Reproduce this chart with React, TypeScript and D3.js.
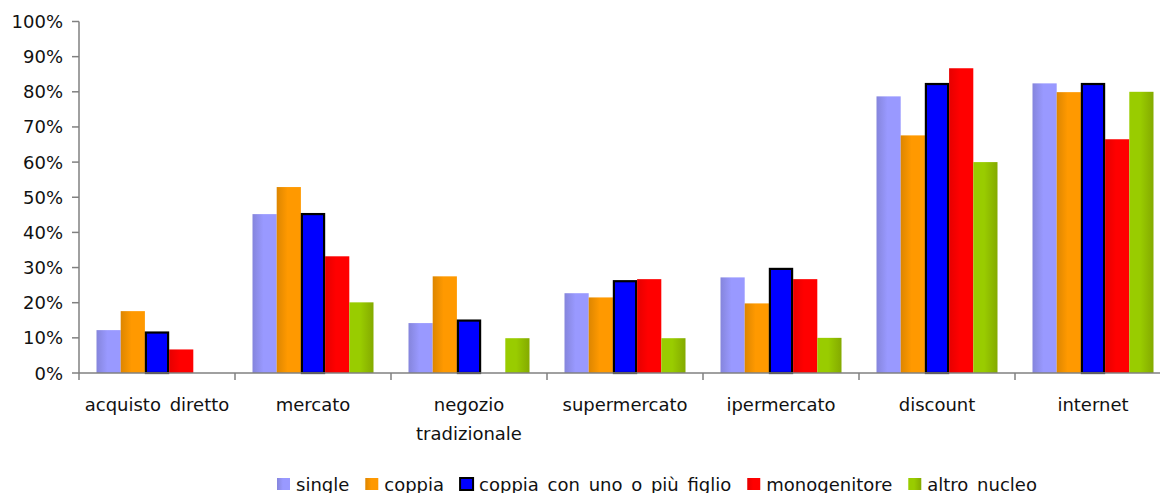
import React from "react";
import * as d3 from "d3";

const categories = [
  ["acquisto diretto"],
  ["mercato"],
  ["negozio", "tradizionale"],
  ["supermercato"],
  ["ipermercato"],
  ["discount"],
  ["internet"],
];
const seriesNames = ["single", "coppia", "coppia con uno o più figlio", "monogenitore", "altro nucleo"];
const single = [0.122, 0.452, 0.142, 0.227, 0.272, 0.787, 0.824];
const coppia = [0.176, 0.529, 0.275, 0.215, 0.198, 0.676, 0.799];
const coppiaFiglio = [0.118, 0.455, 0.152, 0.264, 0.299, 0.825, 0.825];
const monogenitore = [0.067, 0.332, 0, 0.267, 0.267, 0.867, 0.665];
const altroNucleo = [0, 0.201, 0.099, 0.099, 0.1, 0.6, 0.8];
const yTicks = [0, 0.1, 0.2, 0.3, 0.4, 0.5, 0.6, 0.7, 0.8, 0.9, 1.0];

const seriesValues = [single, coppia, coppiaFiglio, monogenitore, altroNucleo];
const gradients = [
  ["#8585dc", "#9999ff", "#9999ff"],
  ["#dd8600", "#ff9900", "#ff9900"],
  ["#0000ff", "#0000ff", "#0000ff"],
  ["#e60000", "#ff0000", "#ff0000"],
  ["#99cc00", "#99cc00", "#84aa00"],
];

const FONT = "'DejaVu Sans', sans-serif";
const WORD_SPACING = 3;

function measure(text: string, size: number) {
  const spaces = (text.match(/ /g) || []).length * WORD_SPACING;
  const c = document.createElement("canvas").getContext("2d");
  if (!c) return text.length * size * 0.55 + spaces;
  c.font = `${size}px 'DejaVu Sans'`;
  return c.measureText(text).width + spaces;
}

export default function App() {
  const W = 1160, H = 493;
  const left = 79, right = 1171, top = 21.5, bottom = 373;
  const x = d3.scaleBand<number>().domain(d3.range(categories.length)).range([left, right]).padding(0);
  const groupW = 121;
  const xs = d3.scaleBand<number>().domain(d3.range(seriesNames.length)).range([0, groupW]).padding(0);
  const y = d3.scaleLinear().domain([0, 1]).range([bottom, top]);
  const fmt = d3.format(".0%");

  // legend layout
  const legendY = 484;
  let lx = 277;
  const legendItems = seriesNames.map((name, i) => {
    const item = { name, i, x: lx };
    lx += 13 + 6 + measure(name, 18) + 16;
    return item;
  });

  return (
    <svg width={W} height={H} style={{ position: "absolute", left: 0, top: 0, background: "#fff" }} fontFamily={FONT} wordSpacing={WORD_SPACING}>
      <defs>
        {gradients.map((g, i) => (
          <linearGradient key={i} id={`g${i}`} x1="0" x2="1" y1="0" y2="0">
            <stop offset="0" stopColor={g[0]} />
            <stop offset="0.45" stopColor={g[1]} />
            <stop offset="1" stopColor={g[2]} />
          </linearGradient>
        ))}
      </defs>
      {/* bars */}
      {categories.map((_, ci) => {
        const gx = (x(ci) as number) + x.bandwidth() / 2 - groupW / 2;
        return (
          <g key={ci}>
            {seriesValues.map((vals, si) => {
              const v = vals[ci];
              if (!v) return null;
              const bx = gx + (xs(si) as number);
              const isBlue = si === 2;
              return (
                <rect
                  key={si}
                  x={isBlue ? bx + 1 : bx}
                  y={isBlue ? y(v) + 1 : y(v)}
                  width={isBlue ? xs.bandwidth() - 2 : xs.bandwidth()}
                  height={isBlue ? bottom - y(v) - 1 : bottom - y(v)}
                  fill={`url(#g${si})`}
                  stroke={isBlue ? "#000" : "none"}
                  strokeWidth={isBlue ? 2.2 : 0}
                />
              );
            })}
          </g>
        );
      })}
      {/* y axis */}
      <line x1={left} x2={left} y1={top} y2={bottom} stroke="#808080" strokeWidth={1.5} />
      {yTicks.map((t) => (
        <g key={t}>
          <line x1={left - 7} x2={left} y1={y(t)} y2={y(t)} stroke="#808080" strokeWidth={1.5} />
          <text x={63} y={y(t) + 6.5} textAnchor="end" fontSize={18} fill="#111">
            {fmt(t)}
          </text>
        </g>
      ))}
      {/* x axis */}
      <line x1={left} x2={right} y1={bottom} y2={bottom} stroke="#808080" strokeWidth={1.5} />
      {categories.map((_, ci) => (
        <line key={ci} x1={x(ci) as number} x2={x(ci) as number} y1={bottom} y2={bottom + 7} stroke="#808080" strokeWidth={1.5} />
      ))}
      {categories.map((lines, ci) => (
        <text key={ci} x={(x(ci) as number) + x.bandwidth() / 2} y={411} textAnchor="middle" fontSize={18} fill="#111">
          {lines.map((l, li) => (
            <tspan key={li} x={(x(ci) as number) + x.bandwidth() / 2} dy={li === 0 ? 0 : 29}>
              {l}
            </tspan>
          ))}
        </text>
      ))}
      {/* legend */}
      {legendItems.map((it) => (
        <g key={it.i}>
          <rect
            x={it.x}
            y={legendY - 6}
            width={13}
            height={12}
            fill={it.i === 2 ? "#0000ff" : `url(#g${it.i})`}
            stroke={it.i === 2 ? "#000" : "none"}
            strokeWidth={it.i === 2 ? 2 : 0}
          />
          <text x={it.x + 19} y={legendY + 6.5} fontSize={18} fill="#111">
            {it.name}
          </text>
        </g>
      ))}
    </svg>
  );
}
